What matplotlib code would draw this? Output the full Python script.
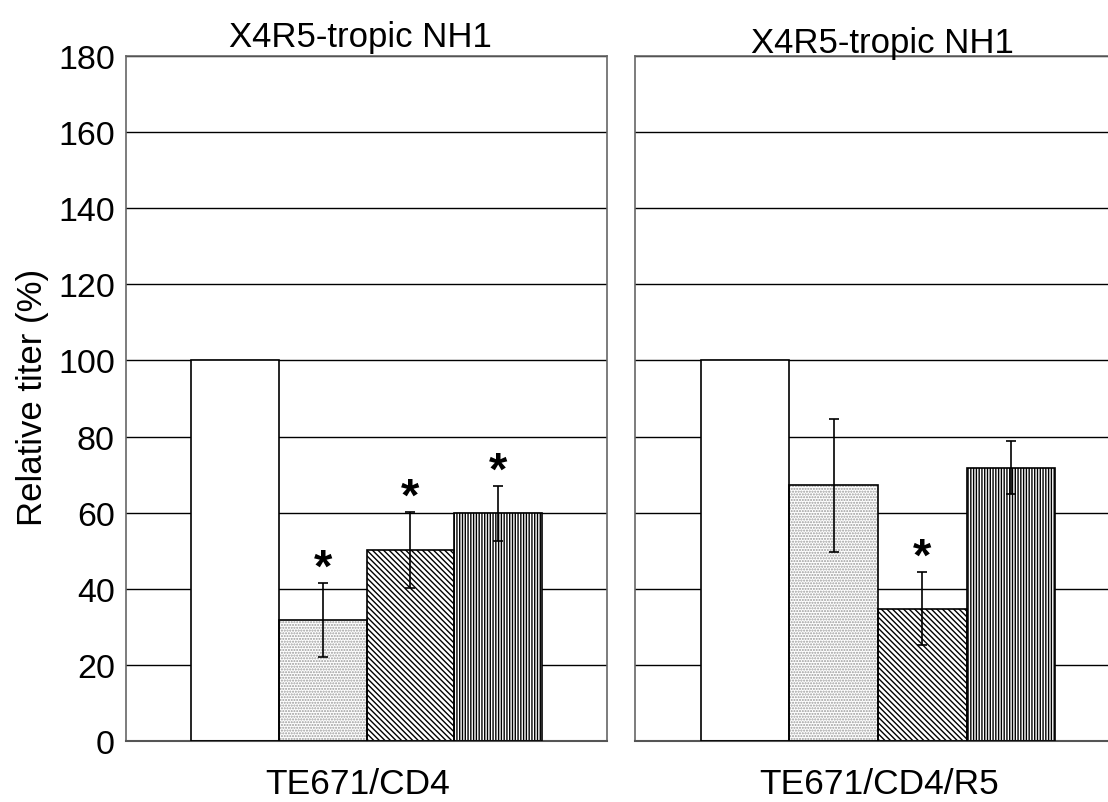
import matplotlib
matplotlib.use("Agg")
import matplotlib.pyplot as plt
import numpy as np

plt.rcParams['font.family'] = ['Liberation Sans', 'DejaVu Sans']
plt.rcParams['hatch.linewidth'] = 1.0

panels = ["TE671/CD4", "TE671/CD4/R5"]
titles = ["X4R5-tropic NH1", "X4R5-tropic NH1"]
values = [[100, 31.8, 50.3, 59.8], [100, 67.2, 34.8, 71.8]]
errors = [[0, 9.6, 10.0, 7.3], [0, 17.5, 9.6, 7.0]]
signif = [[False, True, True, True], [False, False, True, False]]
yticks = [0, 20, 40, 60, 80, 100, 120, 140, 160, 180]

hatches = [None, '......', '\\\\\\\\\\\\', '||||||']
hatch_colors = ['none', '#9a9a9a', 'black', 'black']

W, H = 1108, 803
fig = plt.figure(figsize=(W / 100, H / 100), dpi=100)

axes_px = [(126, 607), (635, 1121)]
top_px, bot_px = 57, 742

for i, (x0, x1) in enumerate(axes_px):
    ax = fig.add_axes([x0 / W, (H - bot_px) / H, (x1 - x0) / W, (bot_px - top_px) / H])
    x = np.arange(4)
    for j in range(4):
        if hatches[j]:
            ax.bar(x[j], values[i][j], width=1.0, color='white', edgecolor=hatch_colors[j],
                   hatch=hatches[j], linewidth=0, zorder=2)
        else:
            ax.bar(x[j], values[i][j], width=1.0, color='white', linewidth=0, zorder=2)
        ax.bar(x[j], values[i][j], width=1.0, color='none', edgecolor='black',
               linewidth=1.2, zorder=3)
        if errors[i][j] > 0:
            ax.errorbar(x[j], values[i][j], yerr=errors[i][j], fmt='none', ecolor='black',
                        elinewidth=1.2, capsize=3.5, capthick=1.2, zorder=4)
        if signif[i][j]:
            ax.text(x[j], values[i][j] + errors[i][j] + 0.6, '*', ha='center', va='baseline',
                    fontsize=34, fontweight='bold', zorder=5)
    ax.set_xlim(-1.24, 4.24)
    ax.set_ylim(0, 180)
    ax.set_yticks(yticks)
    ax.yaxis.grid(True, color='black', linewidth=1.0, zorder=0)
    ax.set_axisbelow(True)
    ax.set_xticks([])
    for s in ['left', 'top', 'right']:
        ax.spines[s].set_color('#666666')
        ax.spines[s].set_linewidth(1.2)
    ax.spines['bottom'].set_color('#555555')
    ax.spines['bottom'].set_linewidth(1.5)
    if i == 0:
        ax.tick_params(axis='y', labelsize=24.5, length=0, pad=8)
    else:
        ax.tick_params(axis='y', labelleft=False, length=0)

# titles and labels
fig.text(360 / W, 1 - 47 / H, titles[0], ha='center', va='baseline', fontsize=25)
fig.text(882 / W, 1 - 53 / H, titles[1], ha='center', va='baseline', fontsize=25)
fig.text(358 / W, 1 - 785 / H, panels[0], ha='center', va='center', fontsize=25.5)
fig.text(879 / W, 1 - 785 / H, panels[1], ha='center', va='center', fontsize=25.5)
fig.text(33 / W, 1 - 397 / H, 'Relative titer (%)', ha='center', va='center',
         rotation=90, fontsize=25)

fig.savefig('out.png', dpi=100)
